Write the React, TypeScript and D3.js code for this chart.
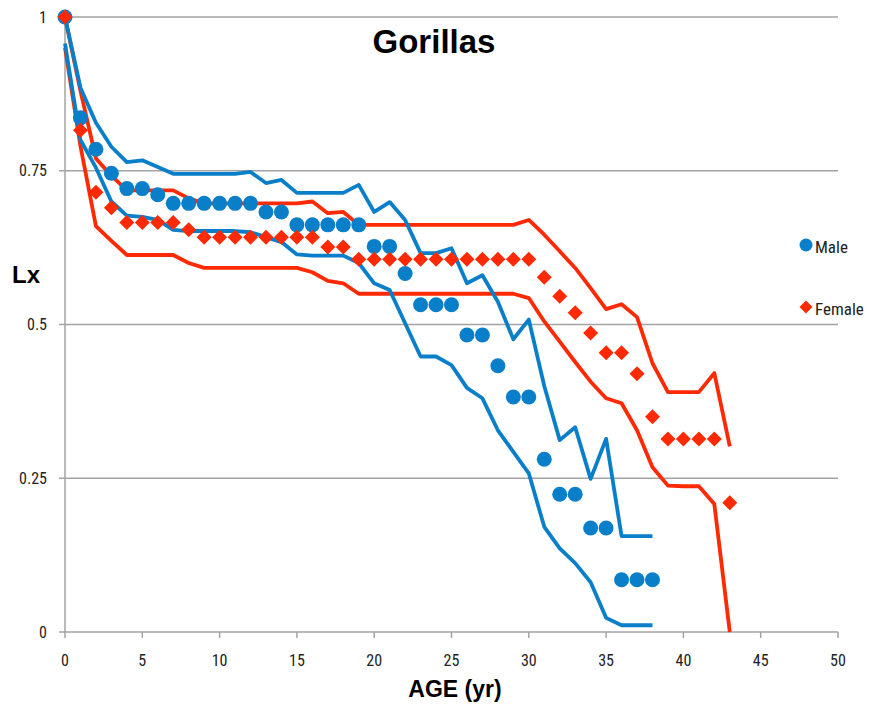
import React from "react";
import * as d3 from "d3";

// survivorship (Lx) by age
const maleAges = d3.range(0, 39);
const maleLx = [
  1, 0.836, 0.785, 0.746, 0.721, 0.721, 0.711, 0.697, 0.697, 0.697,
  0.697, 0.697, 0.697, 0.683, 0.683, 0.662, 0.662, 0.662, 0.662, 0.662,
  0.627, 0.627, 0.583, 0.532, 0.532, 0.532, 0.483, 0.483, 0.433, 0.382,
  0.382, 0.281, 0.224, 0.224, 0.169, 0.169, 0.085, 0.085, 0.085
];
const maleUpper = [
  1, 0.885, 0.828, 0.789, 0.764, 0.767, 0.756, 0.745, 0.745, 0.745,
  0.745, 0.745, 0.748, 0.73, 0.735, 0.714, 0.714, 0.714, 0.714, 0.727,
  0.683, 0.699, 0.67, 0.616, 0.616, 0.624, 0.567, 0.58, 0.537, 0.476,
  0.508, 0.4, 0.312, 0.333, 0.249, 0.314, 0.156, 0.156, 0.156
];
const maleLower = [
  0.957, 0.8, 0.755, 0.7, 0.677, 0.675, 0.67, 0.654, 0.652, 0.652,
  0.652, 0.652, 0.65, 0.642, 0.634, 0.614, 0.612, 0.612, 0.612, 0.6,
  0.567, 0.556, 0.502, 0.448, 0.448, 0.434, 0.397, 0.38, 0.328, 0.293,
  0.258, 0.171, 0.136, 0.112, 0.081, 0.023, 0.011, 0.011, 0.011
];

const femaleAges = d3.range(0, 44);
const femaleLx = [
  1, 0.816, 0.715, 0.69, 0.666, 0.666, 0.666, 0.666, 0.654, 0.642,
  0.642, 0.642, 0.642, 0.642, 0.642, 0.642, 0.642, 0.626, 0.626, 0.606,
  0.606, 0.606, 0.606, 0.606, 0.606, 0.606, 0.606, 0.606, 0.606, 0.606,
  0.606, 0.577, 0.546, 0.519, 0.486, 0.454, 0.454, 0.42, 0.35, 0.314,
  0.314, 0.314, 0.314, 0.21
];
const femaleUpper = [
  1, 0.88, 0.77, 0.742, 0.718, 0.718, 0.718, 0.718, 0.705, 0.697,
  0.697, 0.697, 0.697, 0.697, 0.697, 0.697, 0.7, 0.681, 0.683, 0.662,
  0.662, 0.662, 0.662, 0.662, 0.662, 0.662, 0.662, 0.662, 0.662, 0.662,
  0.67, 0.646, 0.619, 0.592, 0.559, 0.525, 0.533, 0.512, 0.437, 0.39,
  0.39, 0.39, 0.421, 0.302
];
const femaleLower = [
  0.95, 0.79, 0.66, 0.636, 0.613, 0.613, 0.613, 0.613, 0.6, 0.592,
  0.592, 0.592, 0.592, 0.592, 0.592, 0.592, 0.585, 0.571, 0.567, 0.55,
  0.55, 0.55, 0.55, 0.55, 0.55, 0.55, 0.55, 0.55, 0.55, 0.55,
  0.543, 0.505, 0.472, 0.439, 0.407, 0.38, 0.372, 0.328, 0.268, 0.238,
  0.237, 0.237, 0.208, 0
];

const xTicks = [0, 5, 10, 15, 20, 25, 30, 35, 40, 45, 50];
const yTicks = [0, 0.25, 0.5, 0.75, 1];

const blue = "#0a7fc9";
const red = "#ff2a03";
const grid = "#a3a3a3";
const labelFont = "'Liberation Sans Narrow', 'Roboto Condensed', Roboto, sans-serif";
const boldFont = "'Liberation Sans', Arial, sans-serif";

export default function App() {
  const width = 877;
  const height = 717;
  const x = d3.scaleLinear().domain([0, 50]).range([65, 838]);
  const y = d3.scaleLinear().domain([0, 1]).range([632, 17]);

  const line = d3
    .line<[number, number]>()
    .x(d => x(d[0]))
    .y(d => y(d[1]));

  const pairs = (ages: number[], vals: number[]) =>
    ages.map((a, i) => [a, vals[i]] as [number, number]);

  const diamond = (cx: number, cy: number, r: number) =>
    `M${cx},${cy - r}L${cx + r},${cy}L${cx},${cy + r}L${cx - r},${cy}Z`;

  const lineStyle = {
    fill: "none",
    strokeWidth: 3.8,
    strokeLinejoin: "round" as const,
    strokeLinecap: "butt" as const
  };

  return (
    <svg
      width={width}
      height={height}
      style={{ position: "absolute", left: 0, top: 0, background: "#fff" }}
    >
      {/* gridlines */}
      {yTicks.filter(t => t > 0).map(t => (
        <line key={t} x1={x(0)} x2={x(50)} y1={y(t)} y2={y(t)} stroke={grid} strokeWidth={1.5} />
      ))}
      {/* axes */}
      <line x1={x(0)} x2={x(0)} y1={y(1)} y2={y(0)} stroke={grid} strokeWidth={1.5} />
      <line x1={x(0)} x2={x(50)} y1={y(0)} y2={y(0)} stroke={grid} strokeWidth={1.5} />
      {yTicks.map(t => (
        <g key={t}>
          <line x1={x(0) - 6} x2={x(0)} y1={y(t)} y2={y(t)} stroke={grid} strokeWidth={1.5} />
          <text
            x={47}
            y={y(t)}
            dy="0.35em"
            textAnchor="end"
            fontFamily={labelFont}
            fontSize={16}
            fill="#222"
          >
            {String(t)}
          </text>
        </g>
      ))}
      {xTicks.map(t => (
        <g key={t}>
          <line x1={x(t)} x2={x(t)} y1={y(0)} y2={y(0) + 6} stroke={grid} strokeWidth={1.5} />
          <text
            x={x(t)}
            y={660}
            dy="0.35em"
            textAnchor="middle"
            fontFamily={labelFont}
            fontSize={16}
            fill="#222"
          >
            {t}
          </text>
        </g>
      ))}

      {/* confidence lines */}
      <path d={line(pairs(femaleAges, femaleUpper)) || ""} stroke={red} style={lineStyle} />
      <path d={line(pairs(femaleAges, femaleLower)) || ""} stroke={red} style={lineStyle} />
      <path d={line(pairs(maleAges, maleUpper)) || ""} stroke={blue} style={lineStyle} />
      <path d={line(pairs(maleAges, maleLower)) || ""} stroke={blue} style={lineStyle} />

      {/* markers */}
      {maleAges.map((a, i) => (
        <circle key={"m" + a} cx={x(a)} cy={y(maleLx[i])} r={7.5} fill={blue} />
      ))}
      {femaleAges.map((a, i) => (
        <path key={"f" + a} d={diamond(x(a), y(femaleLx[i]), 7.5)} fill={red} />
      ))}

      {/* title and axis titles */}
      <text x={434} y={53} textAnchor="middle" fontFamily={boldFont} fontWeight="bold" fontSize={33} fill="#000">
        Gorillas
      </text>
      <text x={455} y={697} textAnchor="middle" fontFamily={boldFont} fontWeight="bold" fontSize={23} fill="#000">
        AGE (yr)
      </text>
      <text x={12} y={283} fontFamily={boldFont} fontWeight="bold" fontSize={24} fill="#000">
        Lx
      </text>

      {/* legend */}
      <circle cx={806} cy={245} r={6.5} fill={blue} />
      <text x={815} y={253} fontFamily={labelFont} fontSize={17} fill="#222">
        Male
      </text>
      <path d={diamond(806, 307, 6.5)} fill={red} />
      <text x={815} y={315} fontFamily={labelFont} fontSize={17} fill="#222">
        Female
      </text>
    </svg>
  );
}
